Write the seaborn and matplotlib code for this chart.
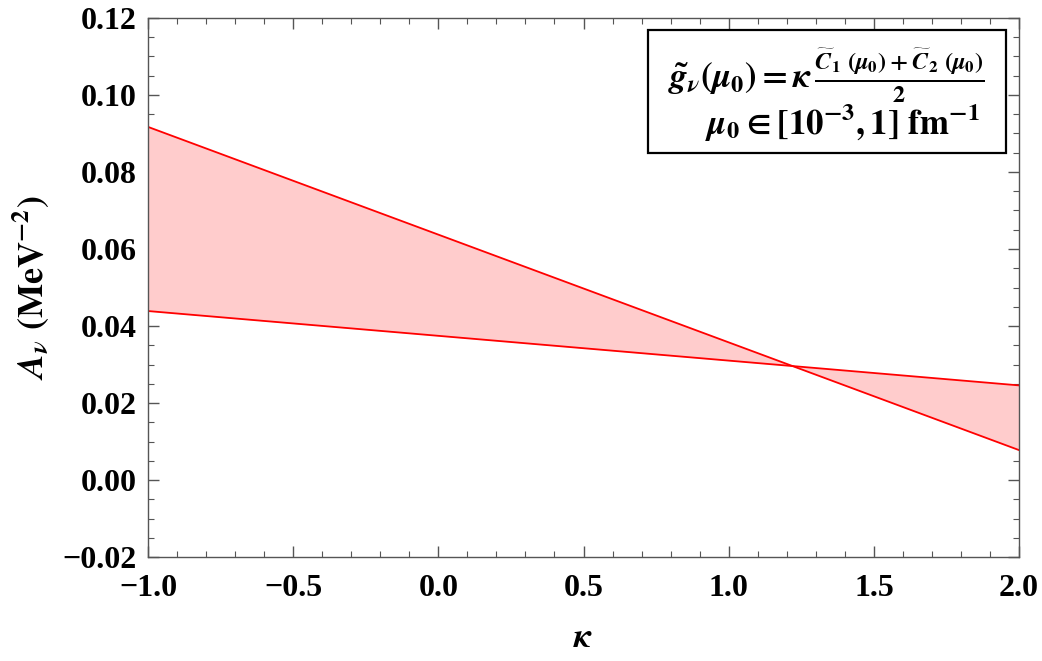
import numpy as np
import pandas as pd
import matplotlib.pyplot as plt
import seaborn as sns
from matplotlib.patches import Rectangle
from matplotlib.ticker import MultipleLocator

# data
kappa = [-1.0, 2.0]
a_upper = [0.0917, 0.0078]
a_lower = [0.0439, 0.0246]

sns.set_style('ticks')
plt.rcParams['font.family'] = ['Liberation Serif', 'DejaVu Serif']
plt.rcParams['font.weight'] = 'bold'
plt.rcParams['mathtext.fontset'] = 'stix'
plt.rcParams['text.color'] = 'black'
plt.rcParams['axes.labelcolor'] = 'black'

df = pd.DataFrame({'kappa': kappa + kappa,
                   'A': a_upper + a_lower,
                   'curve': ['upper'] * 2 + ['lower'] * 2})

fig = plt.figure(figsize=(10.42, 6.61), dpi=100)
ax = fig.add_axes([0.142, 0.157, 0.836, 0.816])

ax.fill_between(kappa, a_upper, a_lower, color='#ffcccc', lw=0)
sns.lineplot(data=df, x='kappa', y='A', units='curve', estimator=None,
             color='red', lw=1.3, ax=ax)

ax.set_xlim(-1, 2)
ax.set_ylim(-0.02, 0.12)
ax.xaxis.set_major_locator(MultipleLocator(0.5))
ax.xaxis.set_minor_locator(MultipleLocator(0.1))
ax.yaxis.set_major_locator(MultipleLocator(0.02))
ax.yaxis.set_minor_locator(MultipleLocator(0.005))
ax.xaxis.set_major_formatter(plt.FuncFormatter(lambda v, p: f'{v:.1f}'.replace('-', '\u2212')))
ax.yaxis.set_major_formatter(plt.FuncFormatter(lambda v, p: f'{v:.2f}'.replace('-', '\u2212')))

ax.tick_params(which='both', direction='in', top=True, right=True, color='#555555',
               labelcolor='black')
ax.tick_params(which='major', length=8, width=1, labelsize=23)
ax.tick_params(axis='x', which='major', pad=12)
ax.tick_params(axis='y', which='major', pad=8)
ax.tick_params(which='minor', length=4, width=0.8)
for lab in ax.get_xticklabels() + ax.get_yticklabels():
    lab.set_fontweight('bold')
for sp in ax.spines.values():
    sp.set_visible(True)
    sp.set_color('#555555')
    sp.set_linewidth(1.0)

ax.set_xlabel(r'$\kappa$', fontsize=25, labelpad=14)
ax.set_ylabel(r'$\mathbfit{A}_{\nu}\ \mathbf{(MeV^{-2})}$', fontsize=26, labelpad=8)

# annotation box
ax.add_patch(Rectangle((0.574, 0.750), 0.411, 0.228, transform=ax.transAxes,
                       fc='white', ec='black', lw=1.6, zorder=5))
line1 = (r'$\tilde{\mathbfit{g}}_{\nu}(\mu_{\mathbf{0}}) = \kappa\,'
         r'\frac{\widetilde{C}_{\mathbf{1}}\ (\mu_{\mathbf{0}})+\widetilde{C}_{\mathbf{2}}\ (\mu_{\mathbf{0}})}{\mathbf{2}}$')
line2 = r'$\mu_{\mathbf{0}} \in \mathbf{[10^{-3},1]\ fm^{-1}}$'
ax.text(0.961, 0.893, line1, transform=ax.transAxes, fontsize=25,
        ha='right', va='center', zorder=6)
ax.text(0.955, 0.805, line2, transform=ax.transAxes, fontsize=25,
        ha='right', va='center', zorder=6)

fig.savefig('out.png', dpi=100)
